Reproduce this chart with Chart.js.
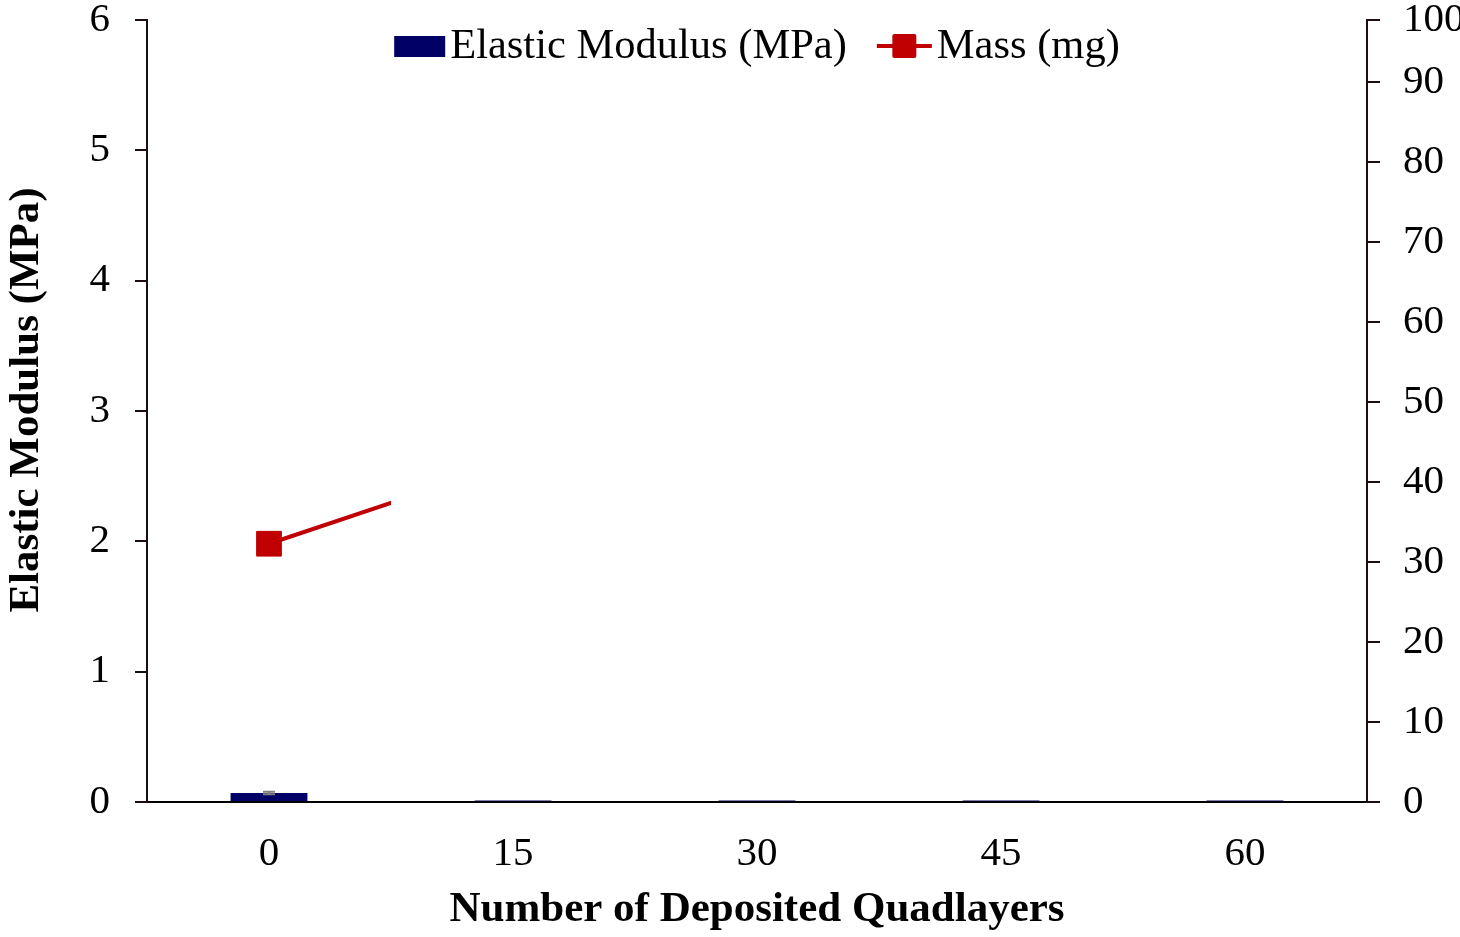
<!DOCTYPE html>
<html>
<head>
<meta charset="utf-8">
<script src="https://cdn.jsdelivr.net/npm/chart.js@4.4.1/dist/chart.umd.min.js"></script>
<style>
  html, body { margin: 0; padding: 0; background: #ffffff; }
  #wrap { width: 1460px; height: 937px; }
</style>
</head>
<body>
<div id="wrap"><canvas id="c" width="1460" height="937"></canvas></div>
<script>
// Number of deposited quadlayers
const quadlayers = ['0', '15', '30', '45', '60'];
// Elastic modulus (MPa) and its error
const modulus = [0.069, 0.012, 0.012, 0.012, 0.012];
const modulusErr = [0.01, 0, 0, 0, 0];
// Mass (mg); only the start of the trace is shown
const mass = [32.3, 42.5, null, null, null];
// Tick labels
const leftTicks = [0, 1, 2, 3, 4, 5, 6];
const rightTicks = [0, 10, 20, 30, 40, 50, 60, 70, 80, 90, 100];
// Mass axis range (its top end carries the last tick)
const massMin = 0;
const massMax = 97.8;

const FONT = '"Liberation Serif", "Times New Roman", serif';
const NAVY = '#000066';
const RED = '#c00000';
const AXIS = '#1c0e0e';

// grey error whiskers over the bars
const errorBars = {
  id: 'errorBars',
  afterDatasetsDraw(chart) {
    const meta = chart.getDatasetMeta(0);
    const y = chart.scales.y;
    const ctx = chart.ctx;
    ctx.save();
    ctx.strokeStyle = '#808080';
    ctx.lineWidth = 2;
    meta.data.forEach((bar, i) => {
      const e = modulusErr[i];
      if (!e) return;
      const top = y.getPixelForValue(modulus[i] + e);
      const bot = y.getPixelForValue(modulus[i] - e);
      ctx.beginPath();
      ctx.moveTo(bar.x, top); ctx.lineTo(bar.x, bot);
      ctx.moveTo(bar.x - 6, top); ctx.lineTo(bar.x + 6, top);
      ctx.moveTo(bar.x - 6, bot); ctx.lineTo(bar.x + 6, bot);
      ctx.stroke();
    });
    ctx.restore();
  }
};

// the mass trace stops halfway to the second category
const partialTrace = {
  id: 'partialTrace',
  beforeDatasetDraw(chart, args) {
    if (args.index !== 1) return;
    const xEnd = chart.scales.x.getPixelForValue(0.5);
    chart.ctx.save();
    chart.ctx.beginPath();
    chart.ctx.rect(0, 0, xEnd, chart.height);
    chart.ctx.clip();
  },
  afterDatasetDraw(chart, args) {
    if (args.index !== 1) return;
    chart.ctx.restore();
  }
};

// rotated title of the modulus axis, a little above the plot's middle
const leftTitle = {
  id: 'leftTitle',
  afterDraw(chart) {
    const ctx = chart.ctx;
    const a = chart.chartArea;
    ctx.save();
    ctx.font = 'bold 43px ' + FONT;
    ctx.fillStyle = '#000';
    ctx.textAlign = 'center';
    ctx.textBaseline = 'middle';
    ctx.translate(27, (a.top + a.bottom) / 2 - 11);
    ctx.rotate(-Math.PI / 2);
    ctx.fillText('Elastic Modulus (MPa)', 0, 0);
    ctx.restore();
  }
};

// legend inside the plot, centred on the plot area
const innerLegend = {
  id: 'innerLegend',
  afterDraw(chart) {
    const ctx = chart.ctx;
    const a = chart.chartArea;
    ctx.save();
    ctx.font = '42.5px ' + FONT;
    ctx.textBaseline = 'middle';
    ctx.fillStyle = '#000';
    const t1 = chart.data.datasets[0].label;
    const t2 = chart.data.datasets[1].label;
    const w1 = ctx.measureText(t1).width;
    const w2 = ctx.measureText(t2).width;
    const boxW = 51, gap = 5, sep = 30, lineW = 55;
    const total = boxW + gap + w1 + sep + lineW + gap + w2;
    let x = (a.left + a.right) / 2 - total / 2;
    const cy = 46;
    ctx.fillStyle = NAVY;
    ctx.fillRect(x, cy - 10, boxW, 21);
    x += boxW + gap;
    ctx.fillStyle = '#000';
    ctx.fillText(t1, x, cy + 1);
    x += w1 + sep;
    ctx.strokeStyle = RED;
    ctx.lineWidth = 4;
    ctx.beginPath();
    ctx.moveTo(x, cy); ctx.lineTo(x + lineW, cy);
    ctx.stroke();
    ctx.fillStyle = RED;
    ctx.beginPath();
    ctx.roundRect(x + lineW / 2 - 12, cy - 12, 24, 24, 2);
    ctx.fill();
    x += lineW + gap;
    ctx.fillStyle = '#000';
    ctx.fillText(t2, x, cy + 1);
    ctx.restore();
  }
};

new Chart(document.getElementById('c'), {
  data: {
    labels: quadlayers,
    datasets: [
      {
        type: 'bar',
        label: 'Elastic Modulus (MPa)',
        data: modulus,
        backgroundColor: NAVY,
        borderWidth: 0,
        categoryPercentage: 1,
        barPercentage: 0.315,
        yAxisID: 'y',
        order: 2
      },
      {
        type: 'line',
        label: 'Mass (mg)',
        data: mass,
        borderColor: RED,
        backgroundColor: RED,
        borderWidth: 4,
        pointStyle: 'rect',
        pointRadius: 17.5,
        pointBorderWidth: 1,
        pointBorderColor: RED,
        pointBackgroundColor: RED,
        spanGaps: false,
        yAxisID: 'y2',
        order: 1
      }
    ]
  },
  options: {
    responsive: false,
    animation: false,
    layout: { padding: { top: 20, left: 0, right: 0, bottom: 0 } },
    plugins: {
      legend: { display: false },
      tooltip: { enabled: false }
    },
    scales: {
      x: {
        type: 'category',
        offset: true,
        grid: { display: false, drawTicks: false },
        border: { display: true, color: '#000', width: 2 },
        ticks: { color: '#000', font: { family: FONT, size: 41 }, padding: 28 },
        title: {
          display: true,
          text: 'Number of Deposited Quadlayers',
          color: '#000',
          font: { family: FONT, size: 43, weight: 'bold' },
          padding: { top: 0, bottom: 1 }
        },
        afterFit(s) { s.height = 135; s.paddingLeft = 0; s.paddingRight = 0; }
      },
      y: {
        type: 'linear',
        position: 'left',
        min: 0, max: 6,
        afterBuildTicks(s) { s.ticks = leftTicks.map(v => ({ value: v })); },
        grid: { display: true, drawOnChartArea: false, drawTicks: true, tickLength: 12, color: AXIS, lineWidth: 2 },
        border: { display: true, color: AXIS, width: 2 },
        ticks: { color: '#000', font: { family: FONT, size: 41 }, padding: 25 },
        afterFit(s) { s.width = 147; s.paddingTop = 0; s.paddingBottom = 0; }
      },
      y2: {
        type: 'linear',
        position: 'right',
        min: massMin, max: massMax,
        // the last tick sits on the axis end
        afterBuildTicks(s) {
          s.ticks = rightTicks.map(v => ({ value: Math.min(v, massMax) }));
        },
        grid: { display: true, drawOnChartArea: false, drawTicks: true, tickLength: 13, color: AXIS, lineWidth: 2 },
        border: { display: true, color: AXIS, width: 2 },
        ticks: {
          color: '#000', font: { family: FONT, size: 41 }, padding: 23,
          callback: (v, i) => String(rightTicks[i])
        },
        afterFit(s) { s.width = 93; s.paddingTop = 0; s.paddingBottom = 0; }
      }
    }
  },
  plugins: [errorBars, partialTrace, leftTitle, innerLegend]
});
</script>
</body>
</html>
